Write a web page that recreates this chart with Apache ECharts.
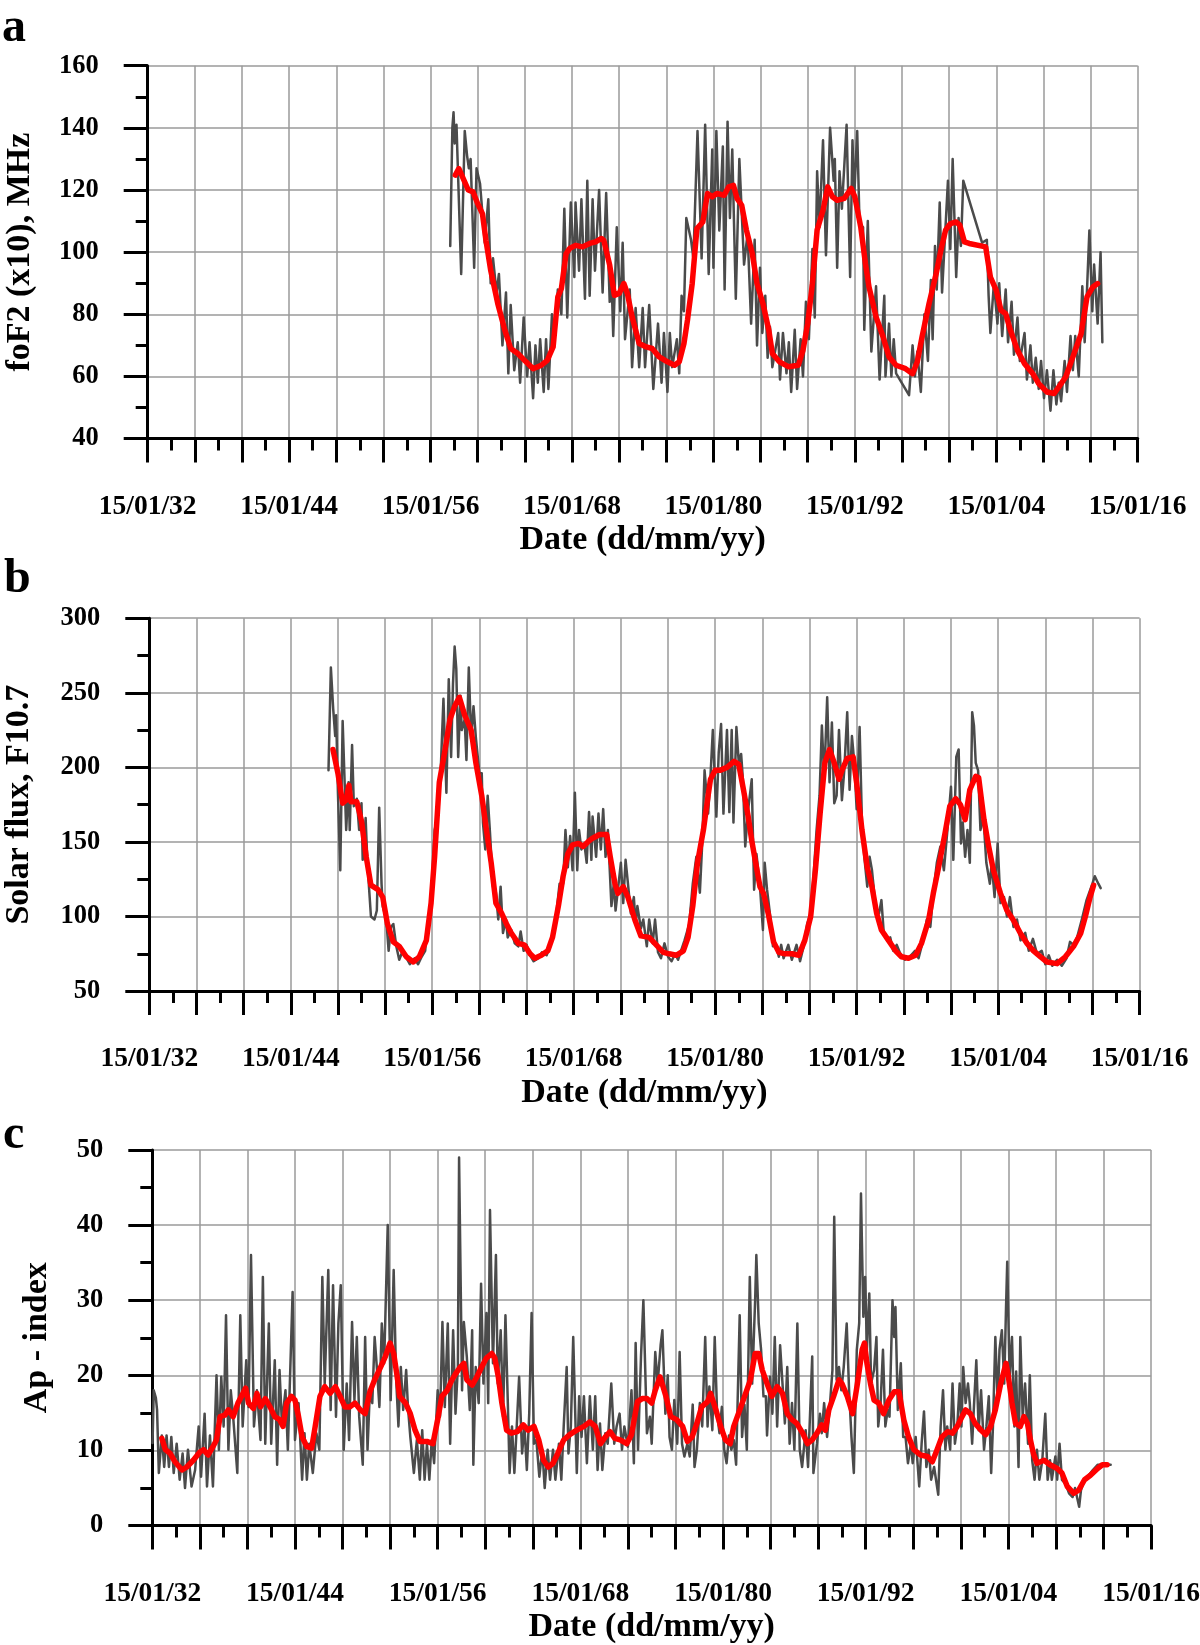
<!DOCTYPE html>
<html><head><meta charset="utf-8">
<script src="https://cdn.jsdelivr.net/npm/echarts/dist/echarts.min.js"></script>
<style>html,body{margin:0;padding:0;background:#fff}#c{width:1200px;height:1645px}</style>
</head><body><div id="c"></div>
<script>
const labelYears = [1932,1944,1956,1968,1980,1992,2004,2016];

const foF2Raw = [[1957.67,102],[1957.85,140],[1957.95,145],[1958.05,135],[1958.2,141],[1958.6,93],[1958.9,139],[1959.1,131],[1959.25,127],[1959.4,130],[1959.7,95],[1959.9,127],[1960.2,122],[1960.6,103],[1960.9,117],[1961.1,90],[1961.3,98],[1961.6,87],[1961.8,93],[1962.1,70],[1962.4,87],[1962.6,61],[1962.8,83],[1963.1,62],[1963.4,71],[1963.6,58],[1963.9,79],[1964.2,60],[1964.4,71],[1964.7,53],[1964.9,70],[1965.1,58],[1965.3,72],[1965.6,55],[1965.8,72],[1966.0,56],[1966.3,80],[1966.5,72],[1966.8,88],[1967.1,80],[1967.35,114],[1967.6,79],[1967.9,116],[1968.2,92],[1968.3,116],[1968.6,94],[1968.8,117],[1969.1,85],[1969.3,123],[1969.5,86],[1969.75,117],[1969.95,94],[1970.3,120],[1970.6,87],[1970.9,119],[1971.2,84],[1971.35,92],[1971.5,73],[1971.8,108],[1972.1,81],[1972.3,103],[1972.5,72],[1972.9,88],[1973.1,63],[1973.4,82],[1973.7,63],[1974.0,82],[1974.2,63],[1974.55,83],[1974.9,56],[1975.3,77],[1975.6,58],[1975.8,74],[1976.1,55],[1976.3,74],[1976.5,63],[1976.9,72],[1977.1,61],[1977.3,86],[1977.5,81],[1977.7,111],[1978.1,104],[1978.3,98],[1978.65,139],[1979.0,98],[1979.3,141],[1979.6,93],[1979.9,133],[1980.0,95],[1980.25,139],[1980.5,107],[1980.8,134],[1980.95,88],[1981.2,142],[1981.4,111],[1981.6,133],[1981.9,85],[1982.2,130],[1982.6,96],[1982.9,106],[1983.2,77],[1983.5,104],[1983.7,70],[1983.95,95],[1984.15,74],[1984.4,86],[1984.6,66],[1984.8,76],[1985.0,63],[1985.5,74],[1985.65,59],[1985.9,74],[1986.2,61],[1986.4,71],[1986.6,55],[1986.9,75],[1987.1,56],[1987.4,72],[1987.6,60],[1987.85,84],[1988.1,72],[1988.4,101],[1988.6,79],[1988.8,126],[1989.0,108],[1989.3,136],[1989.55,99],[1989.9,140],[1990.2,123],[1990.3,130],[1990.5,95],[1990.7,126],[1990.9,114],[1991.3,141],[1991.6,92],[1991.8,136],[1991.95,118],[1992.2,139],[1992.4,109],[1992.7,108],[1992.8,75],[1993.1,110],[1993.4,68],[1993.8,89],[1994.1,59],[1994.5,86],[1994.6,60],[1994.9,77],[1995.1,60],[1995.3,72],[1995.5,61],[1996.6,54],[1996.9,70],[1997.1,60],[1997.3,68],[1997.6,55],[1997.9,80],[1998.2,65],[1998.45,91],[1998.6,72],[1998.8,102],[1998.95,88],[1999.2,116],[1999.4,87],[1999.9,123],[2000.1,101],[2000.3,130],[2000.6,92],[2000.8,111],[2001.0,102],[2001.2,123],[2002.8,103],[2003.2,104],[2003.35,86],[2003.5,74],[2003.8,90],[2004.1,77],[2004.25,90],[2004.5,73],[2004.8,88],[2005.0,71],[2005.3,84],[2005.5,67],[2005.8,79],[2006.0,65],[2006.4,74],[2006.6,59],[2006.9,70],[2007.1,58],[2007.35,66],[2007.6,56],[2007.8,65],[2008.05,53],[2008.3,62],[2008.6,49],[2008.85,62],[2009.1,51],[2009.3,58],[2009.5,52],[2009.8,65],[2010.0,55],[2010.3,73],[2010.5,62],[2010.7,73],[2011.0,60],[2011.3,89],[2011.5,71],[2011.7,88],[2011.9,107],[2012.15,81],[2012.3,96],[2012.6,77],[2012.85,100],[2013.0,71]];

const foF2Smooth = [[1958.1,124.8],[1958.4,126.9],[1959.2,120],[1959.6,119.4],[1960.0,115.6],[1960.4,112.4],[1960.7,103.8],[1961.1,94.2],[1961.7,83.5],[1962.3,74.9],[1962.8,69],[1963.4,67.4],[1964.1,64.7],[1964.7,62.5],[1965.4,63.6],[1965.9,65.2],[1966.4,69.5],[1966.8,85.6],[1967.1,88.3],[1967.5,99.5],[1967.8,101.2],[1968.3,102.2],[1968.9,101.7],[1969.5,102.8],[1970.0,103.3],[1970.5,104.4],[1970.7,103.8],[1971.2,95.8],[1971.6,86.1],[1972.0,86.7],[1972.4,89.9],[1972.7,86.7],[1973.1,79.2],[1973.7,70.6],[1974.3,69.5],[1974.8,69.0],[1975.4,66.3],[1976.1,64.7],[1976.7,63.6],[1977.1,64.7],[1977.5,70.6],[1977.8,78.1],[1978.2,89.9],[1978.6,107.6],[1979.1,109.7],[1979.5,118.9],[1979.9,117.8],[1980.3,118.9],[1980.9,118.3],[1981.3,121],[1981.7,121.5],[1982.0,117.3],[1982.4,115.1],[1982.8,107.1],[1983.3,99.5],[1983.7,89.9],[1984.2,83.5],[1984.7,74.9],[1985.0,67.4],[1985.6,64.7],[1986.4,63.1],[1987.2,63.6],[1987.6,68.4],[1988.0,77],[1988.4,89.9],[1988.8,107.1],[1989.3,113.5],[1989.7,121],[1990.1,117.8],[1990.5,116.7],[1991.1,117.3],[1991.7,120.5],[1992.0,117.8],[1992.5,108.1],[1992.9,96.3],[1993.2,88.8],[1993.8,79.2],[1994.4,72.7],[1994.9,66.3],[1995.5,63.6],[1996.3,62.5],[1996.9,60.9],[1997.3,64.7],[1997.7,72.7],[1998.3,83.5],[1998.9,93.1],[1999.3,100.6],[1999.7,107.1],[2000.1,109.2],[2000.6,109.7],[2000.9,108.7],[2001.3,103.3],[2001.7,102.8],[2003.1,101.7],[2003.5,92],[2004.0,87.7],[2004.4,81.3],[2004.8,80.2],[2005.2,74.9],[2005.8,68.4],[2006.4,64.1],[2007.1,60.9],[2007.6,57.7],[2008.3,55],[2008.9,54.5],[2009.3,56.6],[2009.9,59.9],[2010.5,66.3],[2011.2,73.8],[2011.7,85.6],[2012.2,88.8],[2012.6,89.9]];

const f107Raw = [[1947.2,198],[1947.4,267],[1947.6,239],[1947.77,221],[1947.85,235],[1948.0,183],[1948.2,131],[1948.4,231],[1948.7,158],[1948.9,190],[1949.0,158],[1949.2,215],[1949.35,174],[1949.6,179],[1949.8,158],[1950.0,176],[1950.1,138],[1950.35,166],[1950.5,136],[1950.8,100],[1951.1,98],[1951.3,104],[1951.5,173],[1951.7,122],[1951.8,107],[1952.1,98],[1952.3,77],[1952.5,93],[1952.7,95],[1952.95,80],[1953.2,71],[1953.5,77],[1953.7,74],[1954.1,68],[1954.5,72],[1954.8,68],[1955.1,73],[1955.4,77],[1955.6,95],[1955.9,107],[1956.2,158],[1956.4,165],[1956.6,190],[1956.7,194],[1956.95,246],[1957.2,183],[1957.4,259],[1957.6,207],[1957.76,256],[1957.9,281],[1958.04,266],[1958.2,207],[1958.4,248],[1958.5,225],[1958.75,232],[1958.9,205],[1959.1,267],[1959.3,219],[1959.5,241],[1959.7,220],[1960.0,196],[1960.2,196],[1960.3,163],[1960.5,145],[1960.7,181],[1960.9,156],[1961.15,120],[1961.4,116],[1961.6,98],[1961.8,120],[1962.0,89],[1962.25,98],[1962.4,86],[1962.7,91],[1963.0,82],[1963.3,80],[1963.5,90],[1963.75,77],[1964.0,81],[1964.3,74],[1964.6,70],[1965.0,72],[1965.3,76],[1965.7,74],[1966.0,80],[1966.2,86],[1966.5,100],[1966.8,122],[1967.1,122],[1967.3,158],[1967.5,133],[1967.7,154],[1967.9,131],[1968.1,183],[1968.3,131],[1968.45,158],[1968.65,145],[1968.9,149],[1969.1,136],[1969.3,170],[1969.5,138],[1969.6,167],[1969.9,140],[1970.1,169],[1970.3,145],[1970.5,172],[1970.7,140],[1970.9,158],[1971.2,107],[1971.4,122],[1971.55,104],[1971.75,118],[1972.0,136],[1972.2,109],[1972.4,138],[1972.6,122],[1972.85,102],[1973.1,113],[1973.25,95],[1973.4,107],[1973.7,92],[1973.9,98],[1974.2,80],[1974.4,98],[1974.7,82],[1974.9,98],[1975.15,76],[1975.4,72],[1975.7,82],[1976.0,73],[1976.3,70],[1976.6,75],[1976.85,71],[1977.1,77],[1977.4,84],[1977.8,95],[1978.1,122],[1978.4,140],[1978.7,116],[1978.9,149],[1979.1,198],[1979.4,169],[1979.6,194],[1979.8,225],[1979.95,226],[1980.1,167],[1980.3,210],[1980.5,229],[1980.7,169],[1981.0,225],[1981.2,170],[1981.4,225],[1981.55,163],[1981.8,227],[1982.0,203],[1982.2,209],[1982.35,192],[1982.55,147],[1982.8,172],[1983.0,185],[1983.1,192],[1983.3,118],[1983.5,142],[1983.8,120],[1984.05,91],[1984.2,136],[1984.4,118],[1984.7,98],[1984.9,80],[1985.1,82],[1985.4,73],[1985.6,81],[1985.8,72],[1986.2,81],[1986.5,71],[1986.9,81],[1987.2,70],[1987.5,80],[1987.8,95],[1988.1,102],[1988.3,122],[1988.6,158],[1988.85,181],[1989.05,228],[1989.25,192],[1989.5,247],[1989.7,190],[1989.9,230],[1990.1,176],[1990.3,181],[1990.5,225],[1990.75,178],[1990.95,198],[1991.2,237],[1991.4,185],[1991.6,221],[1991.8,203],[1992.0,172],[1992.25,227],[1992.45,163],[1992.65,140],[1992.9,120],[1993.1,140],[1993.3,131],[1993.6,107],[1993.9,102],[1994.1,111],[1994.3,89],[1994.6,84],[1994.85,86],[1995.1,77],[1995.4,81],[1995.7,75],[1996.1,71],[1996.5,73],[1996.95,77],[1997.25,72],[1997.7,86],[1997.95,98],[1998.25,93],[1998.5,116],[1998.8,136],[1999.1,147],[1999.4,131],[1999.7,158],[2000.0,187],[2000.2,138],[2000.45,207],[2000.65,212],[2000.85,149],[2001.0,163],[2001.2,140],[2001.4,158],[2001.6,136],[2001.8,237],[2001.95,228],[2002.1,203],[2002.3,198],[2002.5,158],[2002.75,167],[2003.0,136],[2003.3,122],[2003.45,136],[2003.7,113],[2003.96,149],[2004.2,109],[2004.5,113],[2004.75,100],[2005.0,113],[2005.3,93],[2005.6,98],[2005.9,84],[2006.3,89],[2006.6,77],[2006.95,85],[2007.3,75],[2007.7,77],[2008.0,68],[2008.3,74],[2008.6,67],[2009.0,71],[2009.4,67],[2009.8,72],[2010.1,83],[2010.4,81],[2010.7,86],[2011.1,98],[2011.5,111],[2012.0,122],[2012.2,127],[2012.5,122],[2012.7,119]];

const f107Smooth = [[1947.58,212],[1948.0,196],[1948.4,176],[1948.7,178],[1948.93,188],[1949.1,177],[1949.6,177],[1950.0,164],[1950.4,140],[1950.8,121],[1951.4,118],[1951.8,113],[1952.2,95],[1952.7,83],[1953.2,80],[1953.8,73],[1954.4,69.5],[1954.9,73],[1955.5,84],[1955.9,109],[1956.2,140],[1956.6,190],[1957.05,210],[1957.5,232],[1957.9,241],[1958.3,247],[1958.75,235],[1959.3,225],[1959.7,203],[1960.2,181],[1960.6,158],[1961.0,136],[1961.4,109],[1961.9,102],[1962.3,95],[1962.7,89],[1963.3,82],[1963.8,81],[1964.3,75],[1964.7,72],[1965.25,74],[1965.8,77],[1966.2,86],[1966.7,107],[1967.1,127],[1967.5,142],[1967.9,148],[1968.4,149],[1968.8,147],[1969.2,150],[1969.6,152.5],[1970.2,155],[1970.8,155],[1971.1,140],[1971.5,122],[1971.75,115.5],[1972.2,120],[1972.6,113],[1973.2,97.5],[1973.7,87],[1974.4,86],[1975.0,81],[1975.6,76],[1976.1,75],[1976.7,74],[1977.3,77],[1977.7,86],[1978.1,107],[1978.5,136],[1979.0,158],[1979.4,181],[1979.6,192],[1980.0,198],[1980.4,198],[1981.0,200],[1981.6,204],[1982.0,202],[1982.4,185],[1982.8,167],[1983.1,151],[1983.5,133],[1983.8,120],[1984.1,115.5],[1984.5,102],[1984.95,83],[1985.4,76],[1985.9,75],[1986.5,75],[1987.1,74],[1987.6,84],[1988.1,100],[1988.5,131],[1988.9,169],[1989.3,203],[1989.7,212],[1990.1,203],[1990.5,192],[1990.75,198],[1991.2,206],[1991.7,207],[1992.0,189.5],[1992.45,158],[1992.9,133],[1993.3,120],[1993.7,102],[1994.1,91],[1994.7,84],[1995.3,77],[1995.8,73],[1996.4,72],[1997.0,74],[1997.5,82],[1998.1,97.5],[1998.5,115.5],[1998.95,133],[1999.5,156],[1999.9,174],[2000.4,179],[2000.8,175],[2001.2,165],[2001.6,185],[2002.1,194],[2002.35,193],[2002.8,165],[2003.2,147],[2003.6,131],[2004.2,115.5],[2004.75,104],[2005.3,97.5],[2005.9,88.6],[2006.45,82],[2007.0,77],[2007.6,73],[2008.15,69.5],[2009.0,68.4],[2009.7,73],[2010.4,80],[2011.0,88.6],[2011.4,100],[2011.8,113],[2012.1,121]];

const apRaw = [[1932.02,11],[1932.12,18],[1932.3,17],[1932.4,15.4],[1932.55,7],[1932.8,12],[1933.0,7.8],[1933.2,12],[1933.4,7.8],[1933.6,11.8],[1933.8,7],[1934.05,10.9],[1934.3,6.1],[1934.55,9.6],[1934.75,5],[1935.0,10.1],[1935.3,5.2],[1935.6,7.4],[1935.9,13.2],[1936.1,6.5],[1936.4,14.9],[1936.6,5.2],[1936.85,12],[1937.1,5.2],[1937.4,20],[1937.6,10.1],[1937.8,19.8],[1938.0,13.2],[1938.2,28],[1938.4,10.1],[1938.6,18],[1938.8,14.5],[1939.15,7],[1939.4,28],[1939.6,13.2],[1939.9,22],[1940.1,15.8],[1940.3,36],[1940.55,13.2],[1940.8,18],[1941.1,11.4],[1941.3,33.1],[1941.5,10.9],[1941.8,26.9],[1942.0,10.9],[1942.3,22],[1942.5,8.1],[1942.7,20.7],[1942.9,13.6],[1943.2,18],[1943.4,10.1],[1943.8,31.1],[1944.0,11.4],[1944.3,16.3],[1944.6,6.1],[1944.8,12.3],[1945.0,6.1],[1945.2,10.9],[1945.5,7],[1945.8,12.3],[1946.05,10.1],[1946.3,33.1],[1946.5,18.9],[1946.8,34],[1947.0,15.4],[1947.2,32],[1947.45,14.5],[1947.65,26.9],[1947.85,32],[1948.1,10.1],[1948.35,18.9],[1948.55,11.4],[1948.8,27.1],[1949.0,16.7],[1949.2,25.1],[1949.4,14.5],[1949.7,8.1],[1949.9,25.1],[1950.1,10.1],[1950.3,18],[1950.5,16.3],[1950.7,25.1],[1950.9,20.7],[1951.1,15.8],[1951.3,26.9],[1951.5,21.6],[1951.8,40],[1952.05,16.7],[1952.3,34],[1952.5,19.8],[1952.7,13.2],[1952.9,21.1],[1953.1,15.4],[1953.35,20.7],[1953.5,15.8],[1953.7,11.8],[1954.0,7],[1954.25,11.4],[1954.5,6.1],[1954.7,12.7],[1954.9,6.1],[1955.1,10.9],[1955.3,6.1],[1955.5,11.4],[1955.7,8.3],[1956.0,18],[1956.2,14.5],[1956.4,27.1],[1956.6,15.8],[1956.85,26.9],[1957.05,10.9],[1957.3,26],[1957.5,14.9],[1957.7,21.1],[1957.8,49],[1958.05,18],[1958.2,27.1],[1958.45,22.5],[1958.7,15.4],[1958.9,26],[1959.0,8.1],[1959.2,21.1],[1959.45,16.3],[1959.65,32.2],[1959.85,18.9],[1960.1,28.3],[1960.25,16.3],[1960.4,42],[1960.65,21.6],[1960.9,36],[1961.05,18.9],[1961.3,26],[1961.5,14.5],[1961.7,28],[1961.9,16.3],[1962.05,7],[1962.25,13.2],[1962.45,7],[1962.65,13.2],[1962.85,19.8],[1963.1,9.6],[1963.3,13.2],[1963.5,7.4],[1963.7,14.9],[1963.9,28.3],[1964.1,10.9],[1964.3,11.4],[1964.55,6.5],[1964.8,10.1],[1965.0,5],[1965.25,10.1],[1965.45,6.1],[1965.7,10.1],[1965.9,6.1],[1966.2,10.9],[1966.4,6.1],[1966.6,13.2],[1966.85,21.1],[1967.0,9.6],[1967.2,13.2],[1967.4,25.1],[1967.7,7],[1967.9,17.2],[1968.1,11.8],[1968.3,17.2],[1968.55,8.3],[1968.8,17.2],[1969.05,10.1],[1969.25,17.2],[1969.45,7.4],[1969.65,13.6],[1969.85,7.4],[1970.1,12.3],[1970.3,10.9],[1970.6,18.9],[1970.85,10.9],[1971.05,13.2],[1971.3,14.9],[1971.5,10.1],[1971.7,13.2],[1972.0,10.5],[1972.3,18],[1972.5,8.3],[1972.65,24.3],[1972.85,10.1],[1973.1,22.5],[1973.3,30],[1973.6,12.3],[1973.85,14.5],[1974.0,10.9],[1974.3,23.1],[1974.5,18.9],[1974.75,24],[1974.9,26],[1975.15,14.9],[1975.35,20],[1975.5,11.8],[1975.7,10.1],[1975.9,16.7],[1976.15,10.9],[1976.35,23.1],[1976.55,10.9],[1976.75,9.2],[1977.0,10.9],[1977.2,9.2],[1977.45,16.1],[1977.6,7.8],[1977.8,10.1],[1978.05,16.3],[1978.25,13.2],[1978.5,25.1],[1978.7,13.2],[1978.85,18.5],[1979.1,12.7],[1979.3,25.1],[1979.5,14.9],[1979.7,12.3],[1979.9,15.8],[1980.1,10.1],[1980.3,8.3],[1980.5,12],[1980.7,10.1],[1980.9,11.4],[1981.1,8.1],[1981.4,28],[1981.6,11.8],[1981.8,16.1],[1982.0,10.1],[1982.25,33.1],[1982.45,18.9],[1982.7,30],[1982.8,36],[1983.0,26.9],[1983.2,23.4],[1983.4,17.2],[1983.6,17.2],[1983.7,12],[1983.95,19.8],[1984.15,14.9],[1984.35,25.1],[1984.55,13.2],[1984.8,24],[1985.0,18.9],[1985.2,13.6],[1985.4,21.1],[1985.6,10.9],[1985.8,16.3],[1986.0,10.1],[1986.25,26.9],[1986.45,10.1],[1986.65,7.8],[1986.95,12.7],[1987.15,7.8],[1987.5,22.5],[1987.6,7],[1987.9,10.9],[1988.15,14.9],[1988.3,12.3],[1988.5,16.3],[1988.75,11.8],[1989.0,16.3],[1989.2,20.7],[1989.35,41.1],[1989.55,19.4],[1989.75,21.1],[1989.95,18],[1990.15,21.1],[1990.4,26.9],[1990.6,18],[1990.8,11.8],[1991.0,7],[1991.25,23.4],[1991.45,26.9],[1991.6,44.2],[1991.8,27.8],[1991.95,33.1],[1992.1,23.4],[1992.3,30.9],[1992.45,18.9],[1992.7,20.7],[1992.9,25.1],[1993.05,13.2],[1993.25,16.3],[1993.45,23.4],[1993.65,13.2],[1993.85,15.4],[1994.0,14.5],[1994.25,30],[1994.4,25.1],[1994.5,29.1],[1994.7,15.4],[1994.95,21.6],[1995.15,11.8],[1995.35,11.8],[1995.55,8.3],[1995.8,10.9],[1995.95,8.3],[1996.2,11.8],[1996.5,5.2],[1996.7,10.9],[1996.9,15.2],[1997.1,7.8],[1997.3,10.1],[1997.5,6.1],[1997.75,7.8],[1998.1,4.1],[1998.3,13.2],[1998.5,18],[1998.7,10.1],[1998.85,13.2],[1999.1,10.1],[1999.3,18.9],[1999.5,10.9],[1999.7,13.2],[1999.9,18.9],[2000.05,13.2],[2000.2,21.1],[2000.4,16.3],[2000.6,18.9],[2000.75,16.3],[2000.95,10.9],[2001.1,15.8],[2001.3,22],[2001.5,12.7],[2001.7,18],[2001.95,10.1],[2002.15,13.2],[2002.35,17.2],[2002.55,7],[2002.7,13.2],[2002.9,25.1],[2003.1,16.3],[2003.25,23.4],[2003.45,26],[2003.65,18.9],[2003.8,29.1],[2003.9,35.1],[2004.1,19.8],[2004.3,25.1],[2004.5,13.2],[2004.65,20.5],[2004.85,7.8],[2005.0,25.1],[2005.2,14.5],[2005.4,18.9],[2005.65,10.9],[2005.8,20],[2006.0,8.7],[2006.2,6.1],[2006.4,10.1],[2006.6,6.1],[2006.85,8.7],[2007.1,14.9],[2007.3,6.1],[2007.5,8.7],[2007.65,6.1],[2007.95,9.2],[2008.1,6.1],[2008.3,10.9],[2008.5,6.1],[2008.8,5.6],[2009.1,4.3],[2009.4,3.8],[2009.6,5],[2009.95,2.5],[2010.1,4.7],[2010.4,6.1],[2010.65,6.5],[2011.1,7.4],[2011.5,8.1],[2011.9,8.1],[2012.3,8.1],[2012.6,8.1]];

const apSmooth = [[1932.8,11.6],[1933.1,10.1],[1933.5,9.6],[1933.9,8.5],[1934.5,7.4],[1934.9,7.8],[1935.45,8.7],[1936.0,9.8],[1936.3,10.1],[1936.7,9.4],[1937.1,10.5],[1937.4,11.4],[1937.7,14.5],[1938.1,14.7],[1938.4,15.4],[1938.8,14.5],[1939.2,16.3],[1939.5,17.2],[1939.85,18.3],[1940.1,16.3],[1940.5,15.6],[1940.8,17.6],[1941.1,15.8],[1941.5,16.9],[1941.9,15.8],[1942.3,14.5],[1942.7,14.1],[1943.0,13.2],[1943.3,16.3],[1943.7,17.2],[1944.0,16.7],[1944.3,14.5],[1944.6,11.8],[1945.0,10.5],[1945.4,10.3],[1945.7,13.2],[1946.1,17.2],[1946.5,18.5],[1946.95,17.6],[1947.4,18.5],[1947.8,17.2],[1948.2,15.8],[1948.6,15.8],[1949.05,16.3],[1949.5,15.4],[1949.9,14.9],[1950.3,17.8],[1950.7,19.4],[1951.2,21.1],[1951.6,22.5],[1952.0,24.3],[1952.3,22.9],[1952.6,19.8],[1952.8,17.2],[1953.3,16.3],[1953.7,14.9],[1954.1,12.7],[1954.5,11.2],[1955.1,11.2],[1955.6,10.9],[1956.0,14.1],[1956.35,17.2],[1956.8,18],[1957.2,19.4],[1957.55,20.3],[1957.9,21.1],[1958.2,21.6],[1958.45,19.4],[1958.9,18.7],[1959.3,19.8],[1959.7,21.1],[1960.1,22.3],[1960.55,22.9],[1960.8,22.3],[1961.1,19.8],[1961.4,16.3],[1961.8,12.7],[1962.2,12.3],[1962.7,12.5],[1963.2,13.4],[1963.6,12.7],[1964.1,13.2],[1964.5,11.4],[1964.9,8.7],[1965.3,7.8],[1965.7,8.3],[1966.1,9.6],[1966.6,11.4],[1967.1,12.1],[1967.7,12.7],[1968.3,13.2],[1968.8,13.8],[1969.25,13.2],[1969.7,10.9],[1970.1,11.8],[1970.5,12.5],[1970.9,11.6],[1971.35,11.4],[1971.9,10.9],[1972.3,12.1],[1972.8,16.5],[1973.2,16.9],[1973.6,16.9],[1974.0,16.3],[1974.3,18.0],[1974.7,19.8],[1975.2,17.2],[1975.6,14.5],[1976.1,14.1],[1976.6,13.2],[1977.0,11.2],[1977.4,11.8],[1977.8,13.6],[1978.2,15.8],[1978.7,16.5],[1978.95,17.6],[1979.4,15.4],[1979.8,13.2],[1980.2,11.4],[1980.6,10.9],[1980.9,13.2],[1981.5,15.8],[1981.9,17.6],[1982.3,19.4],[1982.7,22.9],[1983.0,22.9],[1983.3,20.7],[1983.7,18.9],[1984.1,17.2],[1984.55,18.5],[1985.0,17.6],[1985.4,14.9],[1985.8,14.1],[1986.2,13.6],[1986.7,12.3],[1987.1,10.9],[1987.5,11.4],[1987.9,12.3],[1988.3,13.4],[1988.6,12.7],[1988.9,15.4],[1989.3,17.2],[1989.75,19.4],[1990.0,18.9],[1990.45,17.2],[1990.9,14.9],[1991.3,18.9],[1991.7,23.4],[1991.9,24.3],[1992.1,21.6],[1992.4,18.9],[1992.7,16.7],[1993.1,16.3],[1993.5,14.9],[1993.95,16.7],[1994.4,17.8],[1994.8,17.8],[1995.2,14.1],[1995.6,11.8],[1996.05,10.1],[1996.6,9.4],[1997.2,9.2],[1997.6,8.5],[1998.0,10.1],[1998.4,11.8],[1998.9,12.5],[1999.3,12.3],[1999.7,13.2],[2000.1,14.5],[2000.4,15.4],[2000.8,14.9],[2001.2,13.6],[2001.7,12.7],[2002.1,12.1],[2002.5,13.2],[2002.9,15.4],[2003.35,18.9],[2003.8,21.6],[2004.0,19.8],[2004.3,16.3],[2004.6,13.6],[2005.0,13.2],[2005.3,14.5],[2005.6,13.6],[2005.85,11.4],[2006.1,9.6],[2006.4,8.3],[2007.0,8.7],[2007.5,8.1],[2008.1,7.6],[2008.5,7.0],[2008.95,5.2],[2009.5,4.3],[2009.9,4.7],[2010.4,6.1],[2010.9,6.7],[2011.5,7.6],[2011.9,8.1],[2012.3,8.1]];

const FONT = '"Liberation Serif","Times New Roman",serif';
const GRID_COLOR = '#9a9a9a';
const RAW_COLOR = '#4b4b4b';
const SMOOTH_COLOR = '#ff0000';

function xAxis(gridIndex){
  return {
    type:'value', gridIndex, min:1932, max:2016, interval:4,
    axisLine:{show:true,onZero:false,lineStyle:{color:'#000',width:3}},
    axisTick:{show:true,length:24,lineStyle:{color:'#000',width:3}},
    minorTick:{show:true,splitNumber:2,length:12,lineStyle:{color:'#000',width:3}},
    splitLine:{show:true,lineStyle:{color:GRID_COLOR,width:1.5}},
    axisLabel:{margin:54,fontFamily:FONT,fontWeight:'bold',fontSize:27.5,color:'#000',
      showMinLabel:true,showMaxLabel:true,hideOverlap:false,
      formatter:v => labelYears.includes(v) ? '15/01/' + String(v % 100).padStart(2,'0') : ''},
    name:'Date (dd/mm/yy)', nameLocation:'middle', nameGap:85,
    nameTextStyle:{fontFamily:FONT,fontWeight:'bold',fontSize:34,color:'#000'}
  };
}
function yAxis(gridIndex,min,max,interval,name,nameGap){
  return {
    type:'value', gridIndex, min, max, interval,
    axisLine:{show:true,onZero:false,lineStyle:{color:'#000',width:3}},
    axisTick:{show:true,length:24,lineStyle:{color:'#000',width:3}},
    minorTick:{show:true,splitNumber:2,length:12,lineStyle:{color:'#000',width:3}},
    splitLine:{show:true,lineStyle:{color:GRID_COLOR,width:1.5}},
    axisLabel:{margin:49,fontFamily:FONT,fontWeight:'bold',fontSize:26.5,color:'#000',showMinLabel:true,showMaxLabel:true},
    name, nameLocation:'middle', nameGap,
    nameTextStyle:{fontFamily:FONT,fontWeight:'bold',fontSize:34,color:'#000'}
  };
}
function line(data, idx, color, width, z){
  return {type:'line', xAxisIndex:idx, yAxisIndex:idx, data, showSymbol:false, symbol:'none',
    animation:false, silent:true, z,
    lineStyle:{color, width, join:'round', cap:'round'}};
}

const chart = echarts.init(document.getElementById('c'), null, {renderer:'canvas'});
chart.setOption({
  animation:false,
  backgroundColor:'#fff',
  grid:[
    {left:147.7, top:65.7, width:990, height:372.9, containLabel:false, outerBoundsMode:'none'},
    {left:149.3, top:618.2, width:990.3, height:372.9, containLabel:false, outerBoundsMode:'none'},
    {left:152.3, top:1149.9, width:998.8, height:375.7, containLabel:false, outerBoundsMode:'none'}
  ],
  xAxis:[xAxis(0), xAxis(1), xAxis(2)],
  yAxis:[
    yAxis(0,40,160,20,'foF2 (x10), MHz',110),
    yAxis(1,50,300,50,'Solar flux, F10.7',113),
    yAxis(2,0,50,10,'Ap - index',98)
  ],
  series:[
    line(foF2Raw,0,RAW_COLOR,2.5,2), line(foF2Smooth,0,SMOOTH_COLOR,5.5,3),
    line(f107Raw,1,RAW_COLOR,2.5,2), line(f107Smooth,1,SMOOTH_COLOR,5.5,3),
    line(apRaw,2,RAW_COLOR,2.5,2), line(apSmooth,2,SMOOTH_COLOR,5.5,3)
  ],
  graphic:[
    {type:'text', left:2, top:5, style:{text:'a', font:'bold 48px "Liberation Serif", serif', fill:'#000'}},
    {type:'text', left:4, top:556, style:{text:'b', font:'bold 48px "Liberation Serif", serif', fill:'#000'}},
    {type:'text', left:3, top:1112, style:{text:'c', font:'bold 48px "Liberation Serif", serif', fill:'#000'}}
  ]
});
</script>
</body></html>
